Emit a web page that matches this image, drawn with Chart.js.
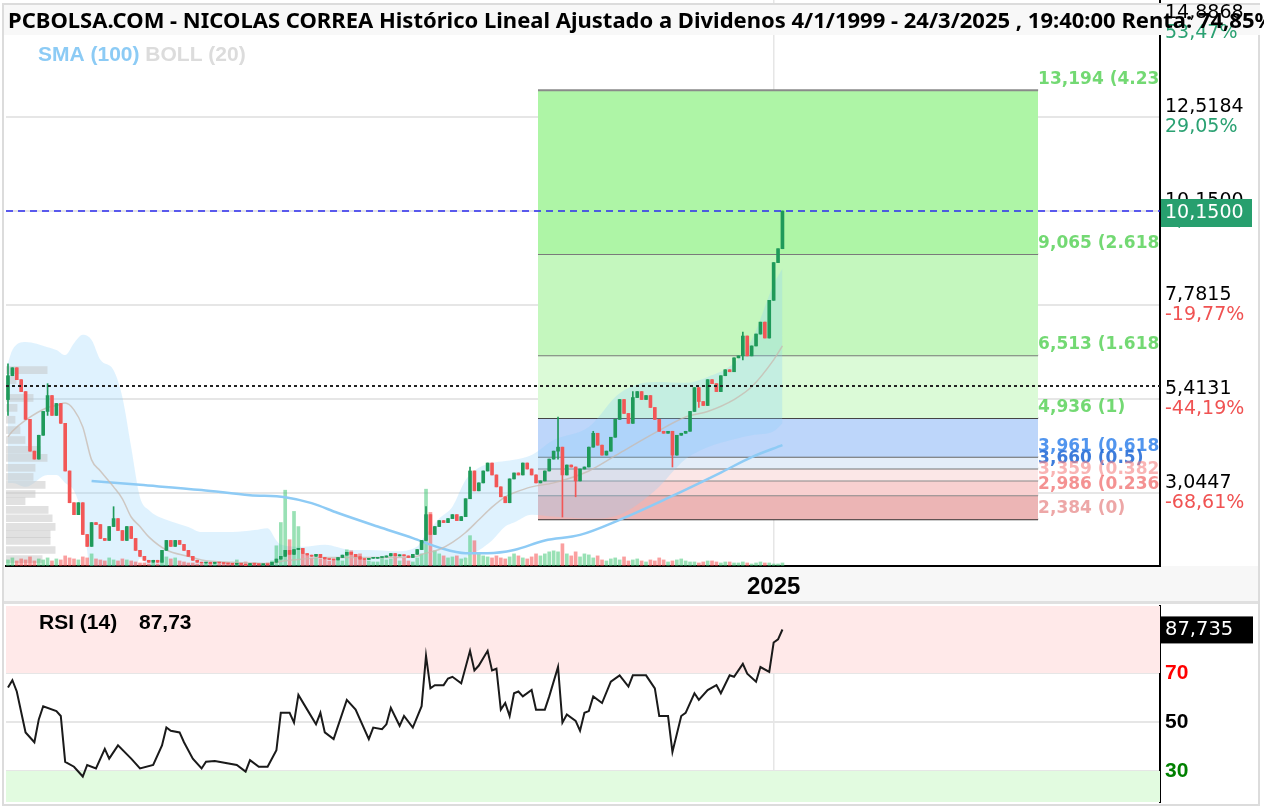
<!DOCTYPE html>
<html>
<head>
<meta charset="utf-8">
<script src="https://cdn.jsdelivr.net/npm/chart.js@4.4.1/dist/chart.umd.min.js"></script>
<style>
  html, body { margin: 0; padding: 0; background: #fff; }
  canvas { display: block; }
</style>
</head>
<body>
<canvas id="lienzoPrecio" width="1264" height="604"></canvas>
<canvas id="lienzoRsi" width="1264" height="204"></canvas>
<script>
// ---------------- Datos (velas mensuales) ----------------
const titulo = 'PCBOLSA.COM - NICOLAS CORREA Histórico Lineal Ajustado a Dividenos 4/1/1999 - 24/3/2025 , 19:40:00 Renta: 74,85%';

const aperturaInicial = 5.4;
const cierres = [
  6.0, 6.2, 5.9, 5.6, 4.9, 4.1, 3.9, 4.5, 5.1, 5.5,
  5.0, 5.3, 4.8, 3.6, 2.8, 2.5, 2.8, 2.0, 1.7, 2.3,
  2.25, 1.9, 1.85, 2.2, 2.4, 2.1, 1.85, 2.2, 1.9, 1.6,
  1.45, 1.35, 1.3, 1.35, 1.3, 1.6, 1.85, 1.7, 1.85, 1.75,
  1.6, 1.45, 1.35, 1.3, 1.28, 1.3, 1.27, 1.3, 1.28, 1.27,
  1.26, 1.25, 1.27, 1.25, 1.22, 1.27, 1.25, 1.24, 1.25, 1.24,
  1.3, 1.38, 1.45, 1.6, 1.5, 1.62, 1.65, 1.52, 1.48, 1.45,
  1.5, 1.42, 1.38, 1.37, 1.36, 1.42, 1.48, 1.55, 1.5, 1.44,
  1.38, 1.37, 1.4, 1.4, 1.42, 1.43, 1.46, 1.52, 1.46, 1.49,
  1.46, 1.42, 1.5, 1.62, 1.85, 2.5, 2.0, 2.2, 2.35, 2.3,
  2.4, 2.5, 2.35, 2.45, 2.9, 3.6, 3.1, 3.3, 3.6, 3.8,
  3.5, 3.2, 2.95, 2.8, 3.4, 3.55, 3.5, 3.8, 3.65, 3.5,
  3.3, 3.35, 3.6, 3.9, 4.1, 4.2, 3.5, 3.75, 3.7, 3.35,
  3.65, 3.7, 4.2, 4.55, 4.25, 4.0, 4.1, 4.45, 4.9, 5.4,
  5.05, 4.8, 5.45, 5.6, 5.4, 5.5, 5.2, 4.9, 4.6, 4.55,
  4.6, 4.0, 4.5, 4.55, 4.6, 5.1, 5.7, 5.35, 5.25, 5.9,
  5.8, 5.6, 6.0, 6.15, 6.1, 6.45, 6.5, 7.0, 6.5, 6.75,
  7.05, 7.35, 6.95, 7.9, 8.85, 9.2, 10.15
];

// mechas visibles (sólo las que sobresalen del cuerpo)
const mechaIdx = [0, 9, 24, 95, 105, 125, 126, 129, 133, 142, 151, 157, 167];
const mechaAlta = [6.3, 5.8, 2.7, 2.7, 3.7, 4.96, 4.2, 3.7, 4.6, 5.6, 4.6, 5.7, 7.1];
const mechaBaja = [5.0, 5.0, 2.3, 1.85, 2.9, 3.9, 2.44, 2.95, 4.2, 4.8, 3.7, 5.2, 6.4];

const volumenes = [
  6, 8, 5, 7, 6, 9, 5, 7, 6, 8,
  5, 7, 6, 10, 8, 7, 6, 9, 8, 12,
  7, 6, 5, 8, 6, 5, 7, 6, 5, 4,
  3, 3, 2, 3, 2, 6, 9, 7, 8, 5,
  4, 3, 3, 2, 2, 2, 3, 2, 2, 3,
  2, 2, 6, 3, 4, 2, 3, 2, 2, 3,
  5, 20, 43, 75, 26, 54, 39, 12, 10, 8,
  8, 7, 6, 5, 6, 8, 5, 16, 15, 10,
  12, 6, 5, 4, 4, 8, 6, 7, 9, 5,
  8, 5, 4, 8, 12, 76, 53, 15, 12, 10,
  8, 9, 10, 7, 8, 30, 25, 12, 10, 9,
  8, 10, 8, 7, 9, 12, 10, 8, 7, 9,
  12, 10, 12, 14, 15, 14, 22, 12, 10, 14,
  9, 12, 11, 8, 10, 6, 5, 7, 8, 6,
  9, 5, 6, 7, 5, 4, 6, 5, 8, 6,
  4, 5, 6, 7, 5, 4, 4, 3, 4, 5,
  5, 4, 3, 4, 4, 3, 3, 4, 3, 2,
  3, 4, 3, 3, 2, 2, 3
];

// SMA (100)
const smaIdx = [19, 30, 44, 55, 63, 69, 75, 84, 92, 98, 104, 109, 115, 122, 130, 139, 150, 162, 169, 176];
const smaVal = [3.35, 3.25, 3.12, 2.99, 2.94, 2.79, 2.54, 2.2, 1.91, 1.67, 1.53, 1.53, 1.61, 1.85, 1.99, 2.37, 2.92, 3.56, 3.95, 4.25];

// Bandas de Bollinger (20)
const bollIdx = [0, 1, 4, 9, 11, 13, 15, 17, 19, 21, 24, 26, 28, 30, 32, 36, 41, 44, 51, 56,
  59, 61, 62, 67, 72, 78, 82, 88, 93, 94, 98, 101, 104, 107, 110, 113, 115, 119, 124, 132,
  139, 147, 154, 159, 165, 169, 174, 176];
const bollSup = [6.32, 6.65, 6.85, 6.72, 6.65, 6.52, 6.82, 7.03, 6.9, 6.4, 6.14, 5.46, 4.2, 2.94, 2.62, 2.37, 2.19, 2.06, 2.06, 2.11,
  2.16, 1.85, 1.75, 1.69, 1.74, 1.61, 1.61, 1.58, 1.7, 1.85, 2.4, 2.7, 3.37, 3.68, 3.8, 3.85, 3.88, 4.0, 4.38, 4.71,
  5.56, 5.84, 5.82, 5.97, 6.32, 6.9, 8.3, 8.7];
const bollMed = [4.46, 4.6, 4.88, 5.2, 5.25, 5.31, 5.14, 4.71, 3.88, 3.6, 3.2, 2.9, 2.44, 2.2, 1.94, 1.61, 1.45, 1.36, 1.3, 1.28,
  1.27, 1.3, 1.32, 1.38, 1.42, 1.42, 1.42, 1.42, 1.45, 1.5, 1.62, 1.8, 2.05, 2.37, 2.69, 2.95, 3.05, 3.2, 3.3, 3.6,
  4.05, 4.56, 4.96, 5.1, 5.4, 5.72, 6.4, 6.75];
const bollInf = [3.3, 3.3, 3.2, 3.5, 3.5, 3.3, 3.1, 2.4, 0.9, 0.7, 0.5, 0.4, 0.6, 1.4, 1.2, 0.85, 0.7, 0.66, 0.55, 0.45,
  0.4, 0.75, 0.9, 1.05, 1.1, 1.2, 1.22, 1.25, 1.2, 1.15, 0.85, 0.9, 1.4, 1.6, 1.85, 2.2, 2.3, 2.5, 2.45, 2.4,
  2.5, 3.1, 3.9, 4.2, 4.4, 4.5, 4.6, 4.8];

// Perfil de volumen por precio
const perfilPrecio = [6.14, 5.89, 5.44, 5.19, 4.89, 4.63, 4.38, 4.13, 3.93, 3.68, 3.45, 3.25, 3.02, 2.84, 2.62, 2.41, 2.19, 2.01, 1.84, 1.61, 1.38];
const perfilVolumen = [41, 10, 27, 11, 9, 14, 19, 34, 41, 29, 27, 39, 29, 19, 42, 46, 49, 44, 44, 49, 36];

// Retroceso de Fibonacci
const nivelesFib = [13.194, 9.065, 6.513, 4.936, 3.961, 3.660, 3.359, 2.986, 2.384];
const etiquetasFib = ['13,194 (4.236)', '9,065 (2.618)', '6,513 (1.618)', '4,936 (1)', '3,961 (0.618)',
  '3,660 (0.5)', '3,359 (0.382)', '2,986 (0.236)', '2,384 (0)'];
const fibDesde = 120.45;
const fibHasta = 234.1;

// Eje de precios
const valoresEje = [14.8868, 12.5184, 10.15, 7.7815, 5.4131, 3.0447];
const etiquetasEje = ['14,8868', '12,5184', '10,1500', '7,7815', '5,4131', '3,0447'];
const porcentajesEje = ['53,47%', '29,05%', '4,64%', '-19,77%', '-44,19%', '-68,61%'];
const precioActual = 10.15;
const nivelPunteado = 5.74;
const indiceEnero2025 = 174;

// RSI (14)
const rsiIdx = [0, 1, 2, 4, 6, 7, 8, 11, 12, 13, 15, 17, 18, 20, 22, 23, 25, 28, 30, 33,
  35, 36, 37, 39, 40, 42, 44, 45, 47, 52, 54, 55, 57, 59, 61, 62, 64, 65, 66, 68,
  70, 71, 72, 74, 77, 79, 82, 83, 85, 86, 87, 89, 90, 92, 94, 95, 96, 97, 99, 100,
  101, 103, 105, 106, 107, 109, 110, 111, 112, 113, 114, 115, 116, 117, 119, 120, 122, 123, 125, 126,
  127, 129, 130, 131, 132, 133, 135, 137, 139, 141, 142, 145, 147, 148, 150, 151, 153, 154, 156, 157,
  159, 161, 162, 164, 165, 167, 168, 170, 171, 173, 174, 175, 176];
const rsiVal = [64, 67, 62.4, 45.7, 41.7, 51, 56.4, 54.4, 52.4, 33.7, 31.7, 27.7, 32.4, 31, 39, 35, 40.4, 35, 31, 32.4,
  40.4, 47.7, 46.4, 45.7, 41.7, 35, 31, 33.7, 34, 32.4, 29.7, 34.4, 31.7, 31.7, 38.4, 53.7, 53.7, 49.7, 61, 55,
  49, 53.7, 45.7, 43, 59, 55, 43, 47.7, 47, 49, 55.7, 48.4, 52.4, 47.7, 56.4, 77, 63.7, 65, 65, 67.7,
  68.4, 65.7, 79, 71, 73, 79, 71, 71.7, 55, 57.7, 52.4, 61.7, 62.4, 60.4, 63, 55, 55, 60.4, 72.4, 49.7,
  53, 50.4, 46.4, 53.7, 54.4, 60.4, 57.7, 66.4, 69, 64.4, 69, 69, 63.7, 52.4, 52.4, 37.7, 52.4, 53.7, 61.7, 59,
  63, 65, 61.7, 69, 68.4, 73.7, 69.7, 66.4, 72.4, 70.4, 82.4, 83.7, 87.7];
const rsiUltimo = 87.735;

// ---------------- Construcción de series ----------------
const X_MIN = -0.45;
const X_MAX = 261.8;

const aperturas = cierres.map((c, i) => (i === 0 ? aperturaInicial : cierres[i - 1]));
const sube = cierres.map((c, i) => c >= aperturas[i]);

const cuerpos = cierres.map((c, i) => ({ x: i, y: [aperturas[i], c] }));
const mechas = cierres.map((c, i) => {
  let bajo = Math.min(aperturas[i], c);
  let alto = Math.max(aperturas[i], c);
  const k = mechaIdx.indexOf(i);
  if (k >= 0) {
    bajo = Math.min(bajo, mechaBaja[k]);
    alto = Math.max(alto, mechaAlta[k]);
  }
  return { x: i, y: [bajo, alto] };
});
const colorVela = sube.map(s => (s ? '#1f9a5a' : '#f25757'));
const colorVolumen = sube.map(s => (s ? 'rgba(70,200,120,0.55)' : 'rgba(245,80,80,0.55)'));

const puntos = (idx, val) => idx.map((x, k) => ({ x, y: val[k] }));
const horizontal = v => [{ x: X_MIN, y: v }, { x: X_MAX, y: v }];

const coloresBandaFib = ['#aef5a6', '#c4f7be', '#dbfad7', '#bdd6fa', '#e4edf8', '#fbe7e7', '#f8d0d0', '#ecb5b5'];
const coloresLineaFib = ['#8a8a8a', '#7a7a7a', '#7a7a7a', '#444', '#666', '#777', '#888', '#888', '#333'];
const coloresTextoFib = ['rgba(90,210,90,0.85)', 'rgba(90,210,90,0.85)', 'rgba(90,210,90,0.85)', 'rgba(90,210,90,0.85)',
  'rgba(50,130,235,0.85)', 'rgba(40,110,215,0.9)', 'rgba(245,130,130,0.6)', 'rgba(240,110,110,0.75)', 'rgba(230,130,130,0.7)'];

const datasetsFib = nivelesFib.map((nivel, k) => ({
  type: 'line',
  data: [{ x: fibDesde, y: nivel }, { x: fibHasta, y: nivel }],
  borderColor: coloresLineaFib[k],
  borderWidth: 2,
  pointRadius: 0,
  fill: k < nivelesFib.length - 1 ? k + 1 : false,
  backgroundColor: coloresBandaFib[k] || 'transparent',
  order: 100
}));

const datasetsPrecio = [
  ...datasetsFib,
  { // 9: Bollinger superior (rellena hasta la inferior)
    type: 'line', data: puntos(bollIdx, bollSup), borderWidth: 0, pointRadius: 0,
    cubicInterpolationMode: 'monotone', fill: 10, backgroundColor: 'rgba(135,206,250,0.27)', order: 90
  },
  { // 10: Bollinger inferior
    type: 'line', data: puntos(bollIdx, bollInf), borderWidth: 0, pointRadius: 0,
    cubicInterpolationMode: 'monotone', fill: false, order: 90
  },
  { // perfil de volumen (barras horizontales)
    type: 'bar', indexAxis: 'y', xAxisID: 'xPerfil', yAxisID: 'y',
    data: perfilPrecio.map((p, k) => ({ x: perfilVolumen[k], y: p })),
    backgroundColor: 'rgba(195,195,195,0.5)', barThickness: 7, grouped: false, order: 85
  },
  { // volumen
    type: 'bar', yAxisID: 'yVol', data: volumenes.map((v, i) => ({ x: i, y: v })),
    backgroundColor: colorVolumen, barThickness: 3, grouped: false, order: 80
  },
  { // línea media Bollinger
    type: 'line', data: puntos(bollIdx, bollMed), borderColor: 'rgba(200,185,175,0.75)', borderWidth: 1.5,
    pointRadius: 0, cubicInterpolationMode: 'monotone', fill: false, order: 70
  },
  { // SMA 100
    type: 'line', data: puntos(smaIdx, smaVal), borderColor: '#8ecbf5', borderWidth: 2.5,
    pointRadius: 0, cubicInterpolationMode: 'monotone', fill: false, order: 70
  },
  { // mechas
    type: 'bar', data: mechas, backgroundColor: colorVela, barThickness: 1, grouped: false, order: 20
  },
  { // cuerpos
    type: 'bar', data: cuerpos, backgroundColor: colorVela, barThickness: 3, minBarLength: 1, grouped: false, order: 10
  },
  { // último precio
    type: 'line', data: horizontal(precioActual), borderColor: '#2b2bf0', borderWidth: 1.5,
    borderDash: [7, 5], pointRadius: 0, fill: false, order: 5
  },
  { // nivel punteado
    type: 'line', data: horizontal(nivelPunteado), borderColor: '#222', borderWidth: 2,
    borderDash: [3, 3], pointRadius: 0, fill: false, order: 5
  }
];

// ---------------- Decoración: textos y marcos ----------------
const decorPrecio = {
  id: 'decorPrecio',
  beforeDraw(chart) {
    const { ctx, chartArea } = chart;
    ctx.save();
    ctx.fillStyle = '#ffffff';
    ctx.fillRect(0, 0, chart.width, chart.height);
    ctx.fillStyle = '#f7f7f7';
    ctx.fillRect(4, chartArea.bottom, chart.width - 8, chart.height - chartArea.bottom);
    ctx.fillStyle = '#e0e0e0';
    ctx.fillRect(4, chart.height - 3, chart.width - 8, 3);
    ctx.restore();
  },
  afterDatasetsDraw(chart) {
    const { ctx, chartArea, scales } = chart;
    ctx.save();
    ctx.beginPath();
    ctx.rect(chartArea.left, chartArea.top, chartArea.right - chartArea.left, chartArea.bottom - chartArea.top);
    ctx.clip();
    ctx.font = 'bold 17px "DejaVu Sans"';
    ctx.textBaseline = 'bottom';
    ctx.textAlign = 'left';
    const xTexto = scales.x.getPixelForValue(fibHasta);
    nivelesFib.forEach((nivel, k) => {
      ctx.fillStyle = coloresTextoFib[k];
      ctx.fillText(etiquetasFib[k], xTexto, scales.y.getPixelForValue(nivel) - 2);
    });
    ctx.restore();
  },
  afterDraw(chart) {
    const { ctx, chartArea, scales } = chart;
    ctx.save();
    // marco exterior
    ctx.strokeStyle = '#dcdcdc';
    ctx.lineWidth = 2;
    ctx.beginPath();
    ctx.moveTo(3, chart.height);
    ctx.lineTo(3, 4);
    ctx.lineTo(1259, 4);
    ctx.lineTo(1259, chart.height);
    ctx.stroke();
    // banda del título
    ctx.fillStyle = '#f8f8f8';
    ctx.fillRect(4, 5, chart.width - 8, 30);

    // etiquetas del eje de precios (valor arriba, porcentaje abajo)
    const xEje = chartArea.right + 5;
    ctx.font = '19px "DejaVu Sans"';
    ctx.textBaseline = 'middle';
    ctx.textAlign = 'left';
    valoresEje.forEach((v, k) => {
      const y = scales.y.getPixelForValue(v);
      ctx.fillStyle = '#000';
      ctx.fillText(etiquetasEje[k], xEje, y - 10);
      ctx.fillStyle = porcentajesEje[k].startsWith('-') ? '#f05252' : '#2aa172';
      ctx.fillText(porcentajesEje[k], xEje, y + 10);
    });
    // caja del último precio
    const yPrecio = scales.y.getPixelForValue(precioActual);
    ctx.fillStyle = '#279f6e';
    ctx.fillRect(chartArea.right + 1, yPrecio - 12, 91, 28);
    ctx.fillStyle = '#fff';
    ctx.fillText('10,1500', xEje, yPrecio + 2);

    // título
    ctx.fillStyle = '#000';
    ctx.font = 'bold 22px "Noto Sans"';
    ctx.textBaseline = 'alphabetic';
    ctx.fillText(titulo, 8, 28);

    // leyenda de indicadores
    ctx.font = 'bold 21px "Liberation Sans"';
    ctx.fillStyle = '#8ccbf5';
    ctx.fillText('SMA (100)', 38, 61);
    const ancho = ctx.measureText('SMA (100) ').width;
    ctx.fillStyle = '#dcdcdc';
    ctx.fillText('BOLL (20)', 38 + ancho, 61);
    ctx.restore();
  }
};

const decorRsi = {
  id: 'decorRsi',
  beforeDraw(chart) {
    const { ctx } = chart;
    ctx.save();
    ctx.fillStyle = '#ffffff';
    ctx.fillRect(0, 0, chart.width, chart.height);
    ctx.restore();
  },
  afterDraw(chart) {
    const { ctx, chartArea, scales } = chart;
    ctx.save();
    ctx.fillStyle = '#000';
    ctx.font = 'bold 21px "Liberation Sans"';
    ctx.textBaseline = 'middle';
    ctx.fillText('RSI (14)', 39, 19);
    ctx.fillText('87,73', 139, 19);

    const y = scales.y.getPixelForValue(rsiUltimo);
    ctx.fillStyle = '#000';
    ctx.fillRect(chartArea.right + 1, y - 13, 92, 27);
    ctx.fillStyle = '#fff';
    ctx.font = '19.5px "DejaVu Sans"';
    ctx.fillText('87,735', chartArea.right + 5, y + 1);

    ctx.strokeStyle = '#dcdcdc';
    ctx.lineWidth = 2;
    ctx.beginPath();
    ctx.moveTo(3, 0);
    ctx.lineTo(3, 201);
    ctx.lineTo(1259, 201);
    ctx.lineTo(1259, 0);
    ctx.stroke();
    ctx.restore();
  }
};

// ---------------- Gráfica de precio ----------------
new Chart(document.getElementById('lienzoPrecio'), {
  type: 'line',
  data: { datasets: datasetsPrecio },
  options: {
    responsive: false,
    animation: false,
    devicePixelRatio: 1,
    layout: { autoPadding: false, padding: { left: 6, top: 0, right: 0, bottom: 0 } },
    plugins: { legend: { display: false }, tooltip: { enabled: false } },
    scales: {
      x: {
        type: 'linear', min: X_MIN, max: X_MAX, offset: false,
        afterBuildTicks: escala => { escala.ticks = [{ value: indiceEnero2025 }]; },
        afterFit: escala => { escala.height = 38; },
        ticks: {
          autoSkip: false, maxRotation: 0, padding: 7, color: '#000',
          font: { family: 'Liberation Sans', size: 24, weight: 'bold' },
          callback: () => '2025'
        },
        grid: { color: '#e6e6e6', lineWidth: 1.5, drawTicks: false, offset: false },
        border: { display: true, color: '#000', width: 2 }
      },
      y: {
        type: 'linear', position: 'right', min: 1.206, max: 15.466, offset: false,
        afterBuildTicks: escala => { escala.ticks = valoresEje.map(v => ({ value: v })); },
        afterFit: escala => { escala.width = 104; },
        ticks: { display: false },
        grid: { color: '#e6e6e6', lineWidth: 2, drawTicks: false, offset: false },
        border: { display: true, color: '#000', width: 2 }
      },
      yVol: { type: 'linear', display: false, min: 0, max: 560, offset: false },
      xPerfil: { type: 'linear', display: false, min: 0, max: 1150, position: 'bottom', offset: false }
    }
  },
  plugins: [decorPrecio]
});

// ---------------- Gráfica RSI ----------------
new Chart(document.getElementById('lienzoRsi'), {
  type: 'line',
  data: {
    datasets: [
      { data: horizontal(70), borderWidth: 0, pointRadius: 0, fill: 'end', backgroundColor: '#ffe9e9', order: 10 },
      { data: horizontal(30), borderWidth: 0, pointRadius: 0, fill: 'start', backgroundColor: '#e2fbe0', order: 10 },
      { data: puntos(rsiIdx, rsiVal), borderColor: '#1a1a1a', borderWidth: 2, pointRadius: 0, tension: 0, fill: false, order: 1 }
    ]
  },
  options: {
    responsive: false,
    animation: false,
    devicePixelRatio: 1,
    layout: { autoPadding: false, padding: { left: 6, top: 2, right: 0, bottom: 6 } },
    plugins: { legend: { display: false }, tooltip: { enabled: false } },
    scales: {
      x: {
        type: 'linear', min: X_MIN, max: X_MAX, offset: false,
        afterBuildTicks: escala => { escala.ticks = [{ value: indiceEnero2025 }]; },
        afterFit: escala => { escala.height = 0; },
        ticks: { display: false },
        grid: { color: '#e6e6e6', lineWidth: 1.5, drawTicks: false },
        border: { display: false }
      },
      y: {
        type: 'linear', position: 'right', min: 17.3, max: 97.3,
        afterBuildTicks: escala => { escala.ticks = [30, 50, 70].map(v => ({ value: v })); },
        afterFit: escala => { escala.width = 104; escala.paddingTop = 0; escala.paddingBottom = 0; },
        ticks: {
          padding: 5,
          font: { family: 'Liberation Sans', size: 21, weight: 'bold' },
          color: c => (c.tick.value === 70 ? '#ff0000' : c.tick.value === 30 ? '#008000' : '#000')
        },
        grid: { color: '#e6e6e6', lineWidth: 2, drawTicks: false },
        border: { display: true, color: '#000', width: 2 }
      }
    }
  },
  plugins: [decorRsi]
});
</script>
</body>
</html>
